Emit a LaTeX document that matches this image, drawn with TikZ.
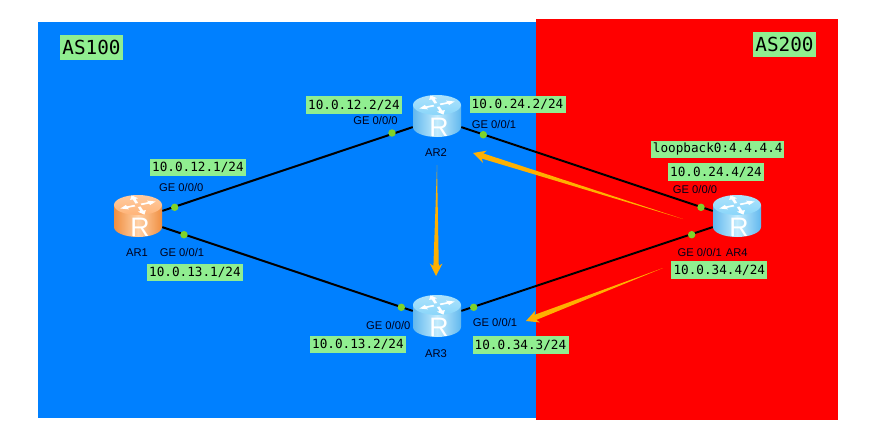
\documentclass[tikz,border=0pt]{standalone}
\usepackage{fontspec}
\setmainfont{Liberation Sans}
\newfontfamily\labelmono{DejaVu Sans Mono}
\usetikzlibrary{calc,arrows.meta}
\definecolor{asblue}{HTML}{0080FF}
\definecolor{asred}{HTML}{FF0000}
\definecolor{tagGreen}{HTML}{90EE90}
\definecolor{portdot}{HTML}{7FD32A}
\definecolor{flow}{HTML}{FFB000}
\definecolor{bluedark}{HTML}{62B8EE}
\definecolor{bluelight}{HTML}{C4ECFD}
\definecolor{bluetop}{HTML}{8AD6FA}
\definecolor{orangedark}{HTML}{F08E40}
\definecolor{orangelight}{HTML}{FFD2A8}
\definecolor{orangetop}{HTML}{FFB478}
\tikzset{
  iptag/.style={fill=tagGreen,inner sep=0pt,minimum height=13pt,font=\labelmono\fontsize{9.5pt}{10pt}\selectfont,text=black},
  astag/.style={fill=tagGreen,inner sep=0pt,minimum width=47.5pt,minimum height=18.5pt,font=\labelmono\fontsize{14.5pt}{15pt}\selectfont,text=black},
  porttext/.style={inner sep=0pt,font=\fontsize{8.4pt}{9pt}\selectfont,text=black!90!blue},
  routernode/.style={inner sep=0pt,minimum width=36pt,minimum height=22pt},
  link/.style={draw=black,line width=1.5pt},
  portmark/.style={circle,fill=portdot,inner sep=0pt,minimum size=5.6pt},
  flowarrow/.style={fill=flow}
}
\newcommand{\routericon}[4]{%
  \begin{scope}[shift={(#1.center)}]
    \shade[left color=#2,right color=#2,middle color=#3]
      (-24,-14) -- (-24,8) arc[start angle=180,end angle=360,x radius=18pt,y radius=7.5pt] -- (24,-14) -- cycle;
    \shade[top color=#4!70!white,bottom color=#4]
      (0,-14) ellipse[x radius=18pt,y radius=7.5pt];
    \begin{scope}[shift={(0,-14)},yscale=.55]
      \foreach \a in {20,110,200,290}{
        \begin{scope}[rotate=\a]
          \fill[white] (2.5pt,-1.1pt) -- (8.5pt,-1.1pt) -- (8.5pt,-3.2pt) -- (14pt,0pt)
            -- (8.5pt,3.2pt) -- (8.5pt,1.1pt) -- (2.5pt,1.1pt) -- cycle;
        \end{scope}
      }
    \end{scope}
    \node[inner sep=0pt,text=white,font=\fontsize{20pt}{20pt}\selectfont] (#1letter) at (2,8.5) {R};
  \end{scope}%
}
\newcommand{\flowtaper}[2]{%
  \fill[flowarrow] (#1)
    -- ($(#2)!7.8pt!15:(#1)$)
    -- ($(#2)!10.5pt!27:(#1)$) -- (#2)
    -- ($(#2)!10.5pt!-27:(#1)$)
    -- ($(#2)!7.8pt!-15:(#1)$) -- cycle;
}
\begin{document}
\begin{tikzpicture}[x=.75pt,y=-.75pt]
\useasboundingbox (0,0) rectangle (883,447);
\fill[white] (0,0) rectangle (883,447);
\fill[asblue] (38,22) rectangle (536,418);
\fill[asred] (536,19) rectangle (838,420);

\node[routernode] (ar1) at (138,219) {};
\node[routernode] (ar2) at (437,119) {};
\node[routernode] (ar3) at (437,319) {};
\node[routernode] (ar4) at (737,219) {};

\draw[link] (ar1) -- (ar2);
\draw[link] (ar1) -- (ar3);
\draw[link] (ar2) -- (ar4);
\draw[link] (ar3) -- (ar4);

\routericon{ar1}{orangedark}{orangelight}{orangetop}
\routericon{ar2}{bluedark}{bluelight}{bluetop}
\routericon{ar3}{bluedark}{bluelight}{bluetop}
\routericon{ar4}{bluedark}{bluelight}{bluetop}

\coordinate (f1s) at (683,219);
\coordinate (f1e) at (473,153);
\coordinate (f2s) at (437,165);
\coordinate (f2e) at (436,276);
\coordinate (f3s) at (663,268);
\coordinate (f3e) at (526,321);
\flowtaper{f1s}{f1e}
\flowtaper{f2s}{f2e}
\flowtaper{f3s}{f3e}

\node[portmark] (p1a) at (174.7,207.3) {};
\node[portmark] (p1b) at (184,234.7) {};
\node[portmark] (p2a) at (392,133) {};
\node[portmark] (p2b) at (483.3,134.7) {};
\node[portmark] (p3a) at (401.3,307.3) {};
\node[portmark] (p3b) at (473.7,307.3) {};
\node[portmark] (p4a) at (701,207.3) {};
\node[portmark] (p4b) at (691.7,234.7) {};

\node[astag] (as100) at (91.5,47.5) {AS100};
\node[astag] (as200) at (784.5,44.5) {AS200};

\node[iptag,minimum width=71.5pt] (ip1) at (198,167.5) {10.0.12.1/24};
\node[iptag,minimum width=72pt] (ip2) at (354,105) {10.0.12.2/24};
\node[iptag,minimum width=72pt] (ip3) at (195,272.8) {10.0.13.1/24};
\node[iptag,minimum width=72pt] (ip4) at (517.5,104.5) {10.0.24.2/24};
\node[iptag,minimum width=100pt] (ip5) at (717.8,149.3) {loopback0:4.4.4.4};
\node[iptag,minimum width=72pt] (ip6) at (716,172) {10.0.24.4/24};
\node[iptag,minimum width=72pt] (ip7) at (719.3,270) {10.0.34.4/24};
\node[iptag,minimum width=72pt] (ip8) at (358,344.3) {10.0.13.2/24};
\node[iptag,minimum width=72pt] (ip9) at (520.5,345) {10.0.34.3/24};

\node[porttext] (g1a) at (181.3,187) {GE 0/0/0};
\node[porttext] (g1b) at (182,252.3) {GE 0/0/1};
\node[porttext] (n1) at (137,252.7) {AR1};
\node[porttext] (g2a) at (375.5,120) {GE 0/0/0};
\node[porttext] (g2b) at (494,124) {GE 0/0/1};
\node[porttext] (n2) at (436,152.7) {AR2};
\node[porttext] (g3a) at (388.3,325) {GE 0/0/0};
\node[porttext] (g3b) at (495,322.3) {GE 0/0/1};
\node[porttext] (n3) at (436,353.3) {AR3};
\node[porttext] (g4a) at (695,189.3) {GE 0/0/0};
\node[porttext] (g4b) at (699.8,252.7) {GE 0/0/1};
\node[porttext] (n4) at (736.7,252.7) {AR4};
\end{tikzpicture}
\end{document}
